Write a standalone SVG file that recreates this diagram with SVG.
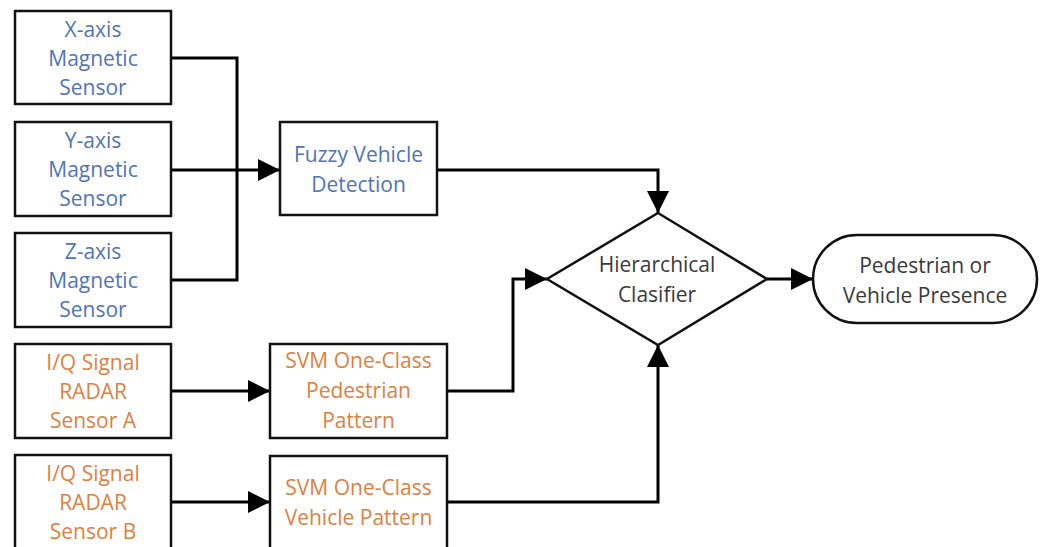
<svg xmlns="http://www.w3.org/2000/svg" width="1044" height="547" viewBox="0 0 1044 547">
<style>
.box{fill:#fff;stroke:#111;stroke-width:2.5}
.t{font-family:"Open Sans","Liberation Sans",sans-serif;font-size:21px;text-anchor:middle}
.blue{fill:#4f74b8}
.orange{fill:#e07f40}
.dark{fill:#3a3a3a}
.c{fill:none;stroke:#000;stroke-width:3}
</style>
<defs>
<marker id="arr" markerUnits="userSpaceOnUse" markerWidth="22" markerHeight="22" refX="22" refY="11" orient="auto">
<path d="M0,0 L22,11 L0,22 z" fill="#000"/>
</marker>
</defs>
<rect width="1044" height="547" fill="#fff"/>
<g id="connectors">
<polyline class="c" points="171,58 237,58 237,280 171,280"/>
<line class="c" x1="171" y1="170" x2="280" y2="170" marker-end="url(#arr)"/>
<polyline class="c" points="437,170 658,170 658,213" marker-end="url(#arr)"/>
<line class="c" x1="767" y1="279" x2="813" y2="279" marker-end="url(#arr)"/>
<line class="c" x1="171" y1="391" x2="270" y2="391" marker-end="url(#arr)"/>
<line class="c" x1="171" y1="502" x2="270" y2="502" marker-end="url(#arr)"/>
<polyline class="c" points="447,391 513,391 513,279 547,279" marker-end="url(#arr)"/>
<polyline class="c" points="447,502 658,502 658,345" marker-end="url(#arr)"/>
</g>
<g id="x-sensor">
<rect class="box" x="15" y="11" width="156" height="93"/>
<text class="t blue" x="93" y="37">X-axis</text>
<text class="t blue" x="93" y="66">Magnetic</text>
<text class="t blue" x="93" y="95">Sensor</text>
</g>
<g id="y-sensor">
<rect class="box" x="15" y="122" width="156" height="94"/>
<text class="t blue" x="93" y="148">Y-axis</text>
<text class="t blue" x="93" y="177">Magnetic</text>
<text class="t blue" x="93" y="206">Sensor</text>
</g>
<g id="z-sensor">
<rect class="box" x="15" y="233" width="156" height="94"/>
<text class="t blue" x="93" y="259">Z-axis</text>
<text class="t blue" x="93" y="288">Magnetic</text>
<text class="t blue" x="93" y="317">Sensor</text>
</g>
<g id="radar-a">
<rect class="box" x="15" y="344" width="156" height="94"/>
<text class="t orange" x="93" y="370">I/Q Signal</text>
<text class="t orange" x="93" y="399">RADAR</text>
<text class="t orange" x="93" y="428">Sensor A</text>
</g>
<g id="radar-b">
<rect class="box" x="15" y="455" width="156" height="100"/>
<text class="t orange" x="93" y="481">I/Q Signal</text>
<text class="t orange" x="93" y="510">RADAR</text>
<text class="t orange" x="93" y="539">Sensor B</text>
</g>
<g id="fuzzy">
<rect class="box" x="280" y="122" width="157" height="93"/>
<text class="t blue" x="358.5" y="162">Fuzzy Vehicle</text>
<text class="t blue" x="358.5" y="192">Detection</text>
</g>
<g id="svm-pedestrian">
<rect class="box" x="270" y="344" width="177" height="94"/>
<text class="t orange" x="358.5" y="368">SVM One-Class</text>
<text class="t orange" x="358.5" y="398">Pedestrian</text>
<text class="t orange" x="358.5" y="428">Pattern</text>
</g>
<g id="svm-vehicle">
<rect class="box" x="270" y="456" width="177" height="100"/>
<text class="t orange" x="358.5" y="495">SVM One-Class</text>
<text class="t orange" x="358.5" y="525">Vehicle Pattern</text>
</g>
<g id="classifier">
<polygon class="box" points="658,213 767,279 658,345 547,279"/>
<text class="t dark" x="657" y="272">Hierarchical</text>
<text class="t dark" x="657" y="302">Clasifier</text>
</g>
<g id="presence">
<rect class="box" x="813" y="235" width="224" height="88" rx="44" ry="44"/>
<text class="t dark" x="925" y="273">Pedestrian or</text>
<text class="t dark" x="925" y="303">Vehicle Presence</text>
</g>
</svg>
